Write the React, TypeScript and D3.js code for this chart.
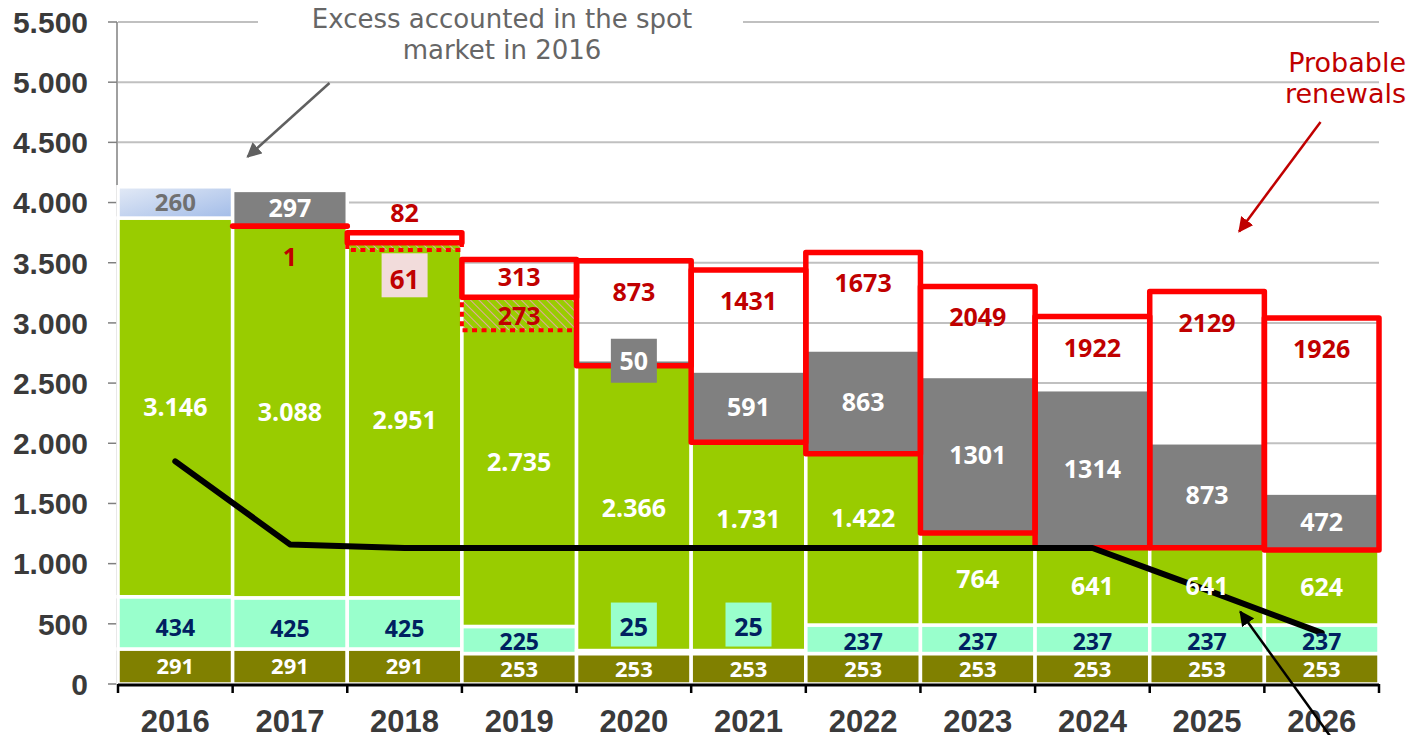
import React from "react";
import * as d3 from "d3";

const years = ["2016", "2017", "2018", "2019", "2020", "2021", "2022", "2023", "2024", "2025", "2026"];
const olive = [291, 291, 291, 253, 253, 253, 253, 253, 253, 253, 253];
const aqua = [434, 425, 425, 225, 25, 25, 237, 237, 237, 237, 237];
const green = [3146, 3088, 2951, 2735, 2366, 1731, 1422, 764, 641, 641, 624];
const gray = [0, 297, 0, 0, 50, 591, 863, 1301, 1314, 873, 472];
const spotExcess = [260, 0, 0, 0, 0, 0, 0, 0, 0, 0, 0];
const renewals = [0, 1, 82, 313, 873, 1431, 1673, 2049, 1922, 2129, 1926];
const hatched = [0, 0, 61, 273, 0, 0, 0, 0, 0, 0, 0];
const lineValues = [1850, 1160, 1130, 1130, 1130, 1130, 1130, 1130, 1130, 780, 425];
const yTicks = [0, 500, 1000, 1500, 2000, 2500, 3000, 3500, 4000, 4500, 5000, 5500];

const W = 1416;
const H = 735;

const C = {
  olive: "#808000",
  aqua: "#99FFCC",
  green: "#99CC00",
  gray: "#808080",
  red: "#FF0000",
  darkRed: "#C00000",
  navy: "#002060",
  pink: "#F2DCDB",
  grid: "#C0C0C0",
  axisText: "#3a3a3a",
};

const locale = d3.formatLocale({ decimal: ",", thousands: ".", grouping: [3], currency: ["", ""] });
const fmtDot = locale.format(",d");

const LABEL_FONT = "'Open Sans', 'Noto Sans', sans-serif";
const AXIS_FONT = "'Liberation Sans', Arial, sans-serif";
const NOTE_FONT = "'DejaVu Sans', Verdana, sans-serif";

export default function App() {
  const y = d3.scaleLinear().domain([0, 5500]).range([684, 22]);
  const x = d3.scaleBand<string>().domain(years).range([118, 1379]).paddingInner(0).paddingOuter(0);
  const bw = x.bandwidth();
  const x0 = x.range()[0];
  const x1 = x.range()[1];
  const cx = (i: number) => (x(years[i]) as number) + bw / 2;
  const xf = (f: number) => x0 + f * bw;

  const segs: any[] = [];
  const labels: any[] = [];
  const boxes: any[] = [];
  const hatchRects: any[] = [];
  const redRects: any[] = [];

  years.forEach((yr, i) => {
    const bx = x(yr) as number;
    const b0 = 0;
    const b1 = olive[i];
    const b2 = b1 + aqua[i];
    const top = b2 + green[i];
    segs.push({ key: `o${i}`, x: bx, y0: b0, y1: b1, fill: C.olive });
    segs.push({ key: `a${i}`, x: bx, y0: b1, y1: b2, fill: C.aqua });
    segs.push({ key: `g${i}`, x: bx, y0: b2, y1: top, fill: C.green });
    if (gray[i] > 0) segs.push({ key: `gr${i}`, x: bx, y0: top, y1: top + gray[i], fill: C.gray });
    if (spotExcess[i] > 0) segs.push({ key: `e${i}`, x: bx, y0: top, y1: top + spotExcess[i], fill: "url(#excessGrad)" });

    labels.push({ key: `lo${i}`, x: cx(i), y: (y(b0) + y(b1)) / 2, text: String(olive[i]), color: "#fff", size: 22 });
    if (aqua[i] < 100) {
      const ly = y(b2) - 25;
      boxes.push({ key: `ba${i}`, x: cx(i), y: ly - 1, fill: C.aqua });
      labels.push({ key: `la${i}`, x: cx(i), y: ly + 1, text: String(aqua[i]), color: C.navy, size: 25 });
    } else {
      const shift = aqua[i] > 400 ? 5 : 2;
      labels.push({ key: `la${i}`, x: cx(i), y: (y(b1) + y(b2)) / 2 + shift, text: String(aqua[i]), color: C.navy, size: 23 });
    }
    const gShift = yr === "2021" ? -27 : yr === "2022" ? -21 : 0;
    labels.push({ key: `lg${i}`, x: cx(i), y: (y(b2) + y(top)) / 2 + gShift, text: fmtDot(green[i]), color: "#fff", size: 25 });
    if (gray[i] > 0) {
      if (gray[i] < 100) {
        const ly = (y(top) + y(top + gray[i])) / 2 - 2;
        boxes.push({ key: `bg${i}`, x: cx(i), y: ly, fill: C.gray });
        labels.push({ key: `lgr${i}`, x: cx(i), y: ly, text: String(gray[i]), color: "#fff", size: 25 });
      } else {
        labels.push({ key: `lgr${i}`, x: cx(i), y: (y(top) + y(top + gray[i])) / 2, text: String(gray[i]), color: "#fff", size: 25 });
      }
    }
    if (spotExcess[i] > 0) {
      labels.push({ key: `le${i}`, x: cx(i), y: (y(top) + y(top + spotExcess[i])) / 2, text: String(spotExcess[i]), color: "#707070", size: 24 });
    }
    if (hatched[i] > 0) {
      hatchRects.push({ key: `h${i}`, x: bx, y0: top - hatched[i], y1: top });
      if (hatched[i] < 100) {
        const ly = (y(top - hatched[i]) + y(top)) / 2 + 33;
        boxes.push({ key: `bh${i}`, x: cx(i), y: ly - 4, fill: C.pink });
        labels.push({ key: `lh${i}`, x: cx(i), y: ly, text: String(hatched[i]), color: C.darkRed, size: 26 });
      } else {
        labels.push({ key: `lh${i}`, x: cx(i), y: (y(top - hatched[i]) + y(top)) / 2 + 2, text: String(hatched[i]), color: C.darkRed, size: 25 });
      }
    }
    if (renewals[i] > 0) {
      redRects.push({ key: `r${i}`, x: bx, y0: top, y1: top + renewals[i] });
      const boxTop = y(top + renewals[i]);
      let ly = boxTop + 31;
      if (yr === "2018") ly = boxTop - 20;
      if (yr === "2019") ly = (boxTop + y(top)) / 2 - 1;
      labels.push({ key: `lr${i}`, x: cx(i), y: ly, text: String(renewals[i]), color: C.darkRed, size: 25 });
    }
  });

  const line = d3
    .line<number>()
    .x((_, i) => cx(i))
    .y((v) => y(v));

  const yFmt = locale.format(",d");

  return (
    <svg width={W} height={H} style={{ position: "absolute", left: 0, top: 0, display: "block", background: "#fff" }}>
      <defs>
        <linearGradient id="excessGrad" x1="0" y1="0" x2="1" y2="1">
          <stop offset="0%" stopColor="#E3EAF6" />
          <stop offset="100%" stopColor="#A2BCE8" />
        </linearGradient>
        <pattern id="hatch" width="6" height="6" patternUnits="userSpaceOnUse" patternTransform="rotate(-45)">
          <rect width="6" height="6" fill={C.green} />
          <line x1="0" y1="0" x2="0" y2="6" stroke="#E3A6A2" strokeWidth="2" />
        </pattern>
        <marker id="arrGray" viewBox="0 0 10 10" refX="9" refY="5" markerWidth="6" markerHeight="6" orient="auto-start-reverse" markerUnits="strokeWidth">
          <path d="M0,0 L10,5 L0,10 z" fill="#606060" />
        </marker>
        <marker id="arrRed" viewBox="0 0 10 10" refX="9" refY="5" markerWidth="6" markerHeight="6" orient="auto-start-reverse" markerUnits="strokeWidth">
          <path d="M0,0 L10,5 L0,10 z" fill={C.darkRed} />
        </marker>
        <marker id="arrBlack" viewBox="0 0 10 10" refX="9" refY="5" markerWidth="6" markerHeight="6" orient="auto-start-reverse" markerUnits="strokeWidth">
          <path d="M0,0 L10,5 L0,10 z" fill="#000" />
        </marker>
      </defs>

      {yTicks.filter((t) => t > 0).map((t) => (
        <line key={`gl${t}`} x1={x0} x2={x1} y1={y(t)} y2={y(t)} stroke={C.grid} strokeWidth={2} />
      ))}

      <line x1={x0 - 1} x2={x0 - 1} y1={y(5500)} y2={y(0)} stroke="#808080" strokeWidth={1.5} />
      {yTicks.map((t) => (
        <g key={`yt${t}`}>
          <line x1={x0 - 10} x2={x0 - 1} y1={y(t)} y2={y(t)} stroke="#808080" strokeWidth={1.5} />
          <text x={88} y={y(t)} dy="0.36em" textAnchor="end" fontFamily={AXIS_FONT} fontWeight="bold" fontSize={30} fill={C.axisText}>
            {yFmt(t)}
          </text>
        </g>
      ))}

      {segs.map((s) => (
        <rect key={s.key} x={s.x} width={bw} y={y(s.y1)} height={Math.max(0, y(s.y0) - y(s.y1))} fill={s.fill} stroke="#fff" strokeWidth={3.5} />
      ))}

      {hatchRects.map((h) => (
        <g key={h.key}>
          <rect x={h.x + 2} width={bw - 4} y={y(h.y1)} height={y(h.y0) - y(h.y1)} fill="url(#hatch)" />
          <rect x={h.x} width={bw} y={y(h.y1)} height={y(h.y0) - y(h.y1)} fill="none" stroke={C.red} strokeWidth={4} strokeDasharray="5 4.5" />
        </g>
      ))}

      {redRects.map((r) => (
        <rect key={r.key} x={r.x} width={bw} y={y(r.y1)} height={Math.max(0.1, y(r.y0) - y(r.y1))} fill="none" stroke={C.red} strokeWidth={5.5} strokeLinejoin="round" />
      ))}

      {boxes.map((b) => (
        <rect key={b.key} x={b.x - 23} y={b.y - 22} width={46} height={44} fill={b.fill} />
      ))}

      <path d={line(lineValues) as string} fill="none" stroke="#000" strokeWidth={6} strokeLinejoin="round" strokeLinecap="round" />

      {labels.map((l) => (
        <text key={l.key} x={l.x} y={l.y} dy="0.36em" textAnchor="middle" fontFamily={LABEL_FONT} fontWeight={700} fontSize={l.size} fill={l.color}>
          {l.text}
        </text>
      ))}

      <line x1={x0} x2={x1} y1={685} y2={685} stroke="#000" strokeWidth={3} />
      {d3.range(years.length + 1).map((k) => (
        <line key={`xt${k}`} x1={xf(k)} x2={xf(k)} y1={684} y2={693} stroke="#000" strokeWidth={2.5} />
      ))}
      {years.map((yr, i) => (
        <text key={`xl${yr}`} x={cx(i)} y={732} textAnchor="middle" fontFamily={AXIS_FONT} fontWeight="bold" fontSize={31} fill={C.axisText}>
          {yr}
        </text>
      ))}

      <rect x={258} y={8} width={485} height={58} fill="#fff" />
      <text x={502} textAnchor="middle" fontFamily={NOTE_FONT} fontSize={26} fill="#666">
        <tspan x={502} y={28}>Excess accounted in the spot</tspan>
        <tspan x={502} y={59}>market in 2016</tspan>
      </text>
      <line x1={xf(1.845)} y1={y(4993)} x2={xf(1.13)} y2={y(4380)} stroke="#606060" strokeWidth={2.5} markerEnd="url(#arrGray)" />

      <text textAnchor="end" fontFamily={NOTE_FONT} fontSize={27} fill={C.darkRed}>
        <tspan x={1406} y={72}>Probable</tspan>
        <tspan x={1406} y={103}>renewals</tspan>
      </text>
      <line x1={xf(10.49)} y1={y(4670)} x2={xf(9.78)} y2={y(3760)} stroke={C.darkRed} strokeWidth={2.5} markerEnd="url(#arrRed)" />

      <line x1={xf(10.63)} y1={745} x2={xf(9.79)} y2={y(600)} stroke="#000" strokeWidth={2.5} markerEnd="url(#arrBlack)" />
    </svg>
  );
}
